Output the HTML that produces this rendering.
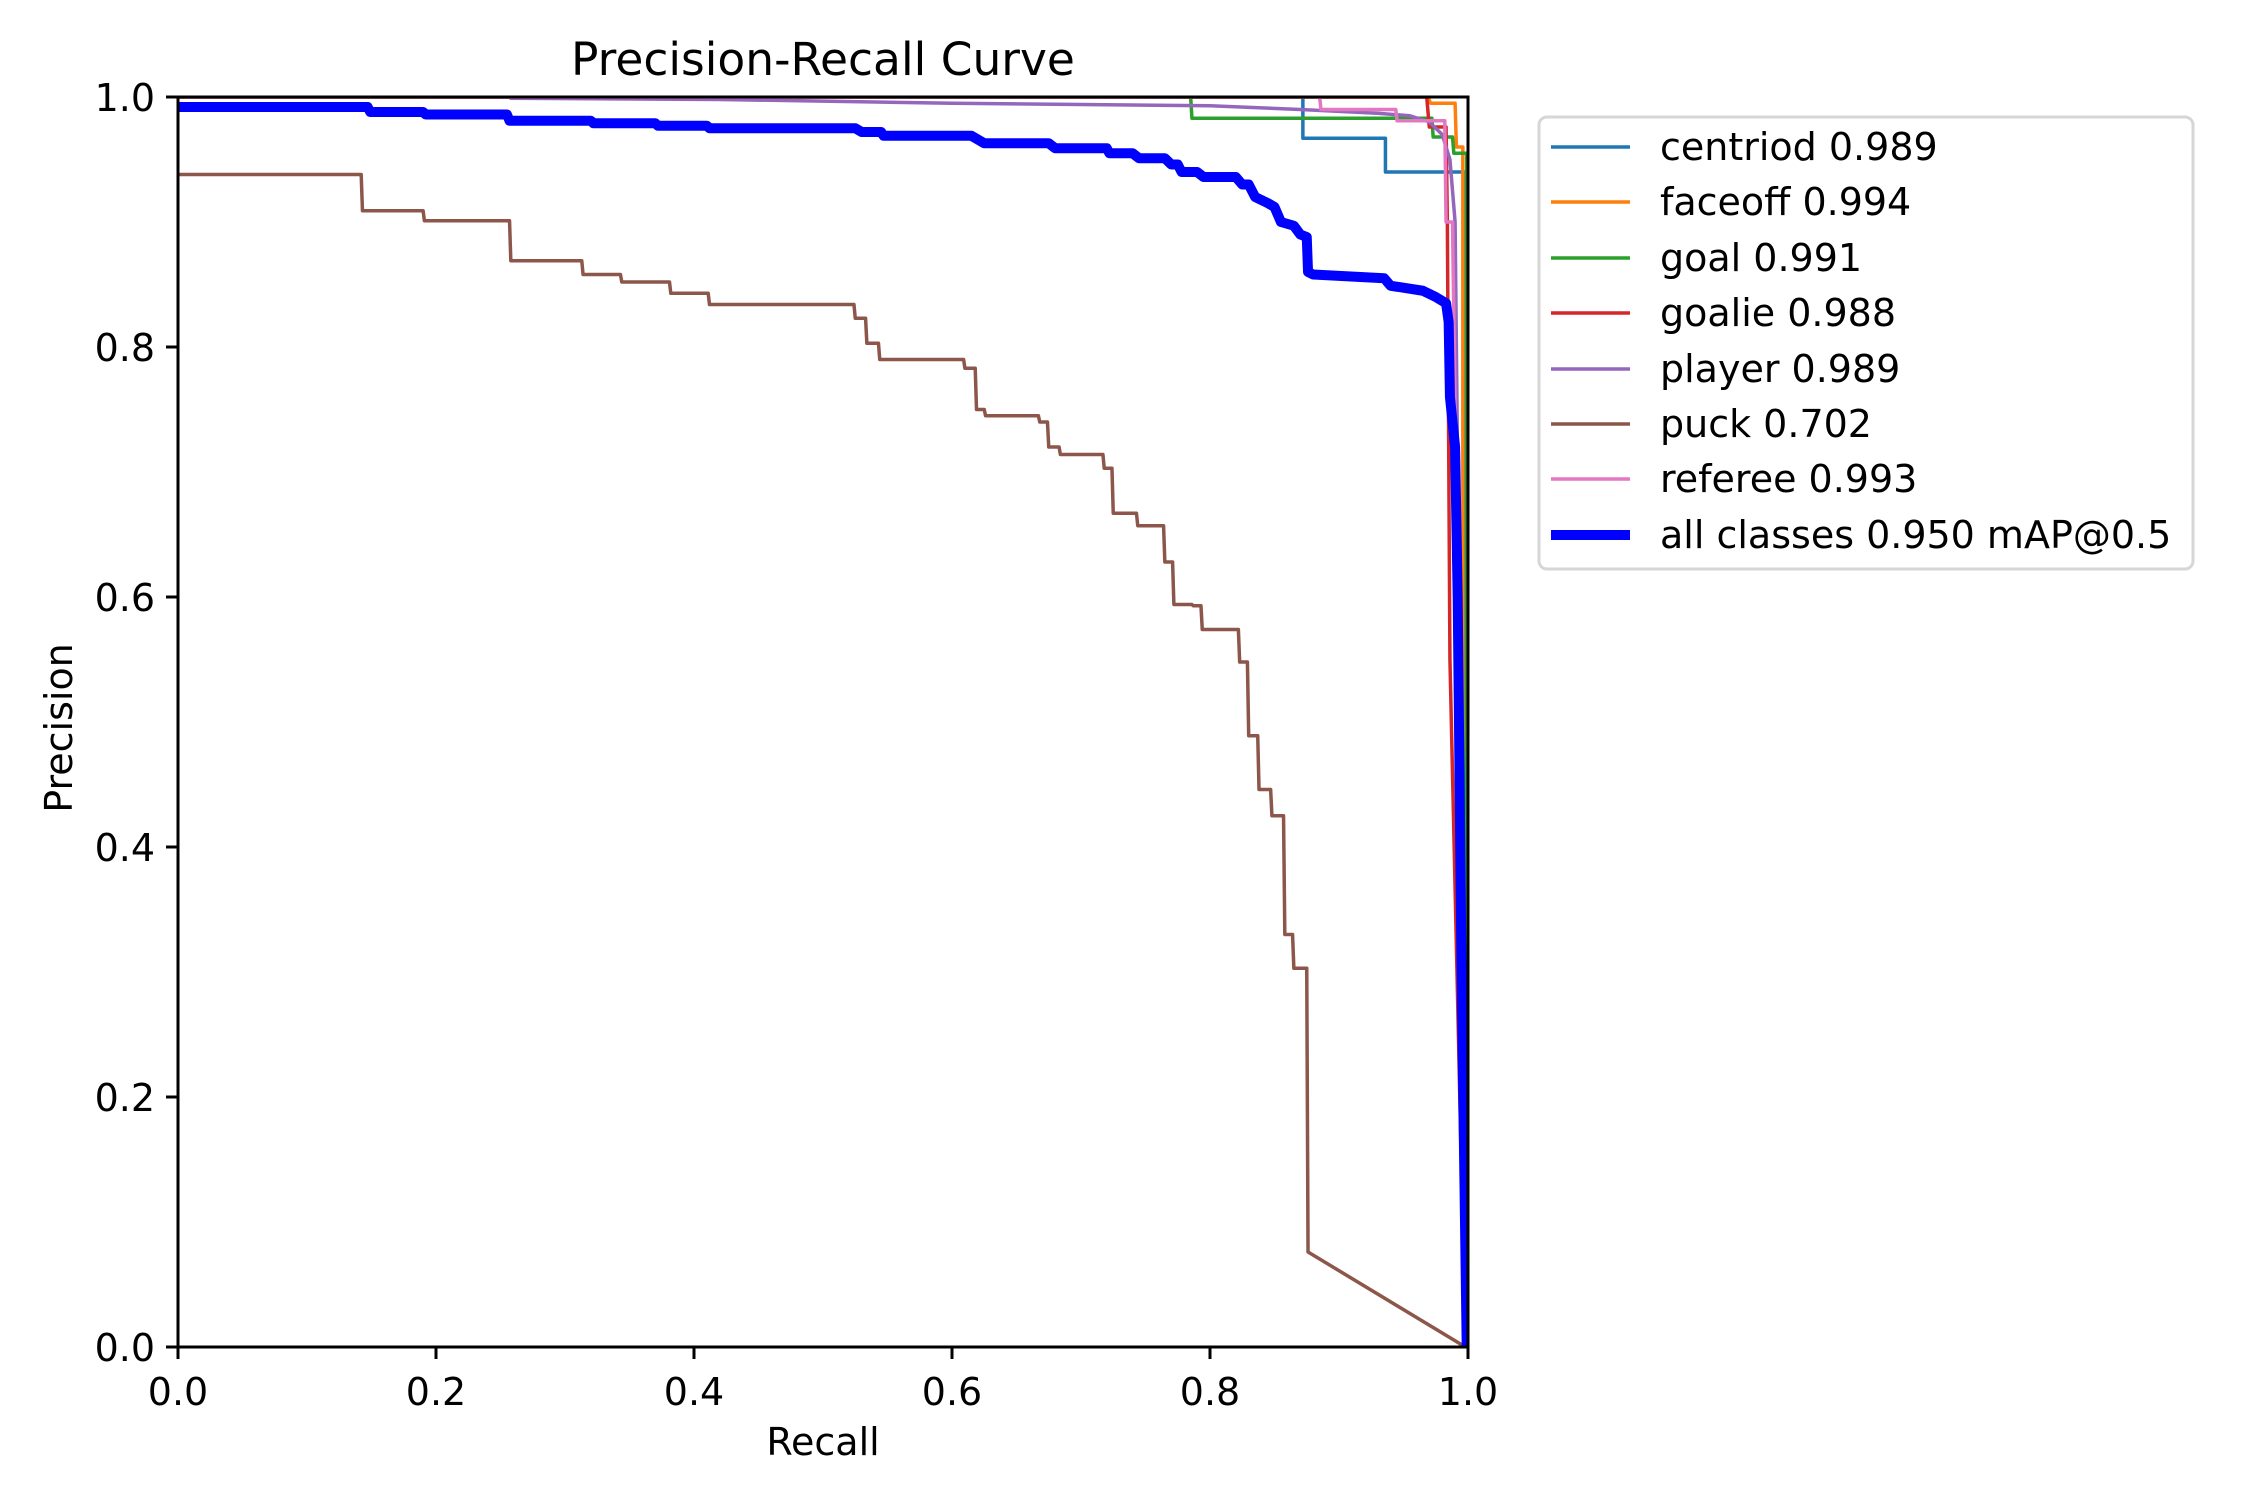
<!DOCTYPE html>
<html><head><meta charset="utf-8"><style>
html,body{margin:0;padding:0;background:#fff;}
svg{display:block;}
text{font-family:"DejaVu Sans","Liberation Sans",sans-serif;fill:#000;}
</style></head><body>
<svg width="2250" height="1500" viewBox="0 0 2250 1500" xmlns="http://www.w3.org/2000/svg">
<rect width="2250" height="1500" fill="#fff"/>
<defs><clipPath id="c"><rect x="178" y="97" width="1290" height="1250"/></clipPath></defs>
<g clip-path="url(#c)" fill="none" stroke-linejoin="round">
<g transform="translate(178,1347) scale(1290,-1250)">
<path vector-effect="non-scaling-stroke" stroke="#1f77b4" stroke-width="3.5" d="M0,1 L0.872,1 L0.872,0.967 L0.936,0.967 L0.936,0.94 L0.998,0.94 L0.998,0"/>
<path vector-effect="non-scaling-stroke" stroke="#ff7f0e" stroke-width="3.5" d="M0,1 L0.969,1 L0.971,0.995 L0.99,0.995 L0.991,0.96 L0.996,0.96 L0.996,0.3 L0.999,0"/>
<path vector-effect="non-scaling-stroke" stroke="#2ca02c" stroke-width="3.5" d="M0,1 L0.785,1 L0.786,0.983 L0.972,0.983 L0.973,0.968 L0.988,0.968 L0.989,0.955 L0.999,0.955 L0.999,0"/>
<path vector-effect="non-scaling-stroke" stroke="#d62728" stroke-width="3.5" d="M0,1 L0.968,1 L0.97,0.976 L0.983,0.976 L0.984,0.9 L0.986,0.55 L0.998,0"/>
<path vector-effect="non-scaling-stroke" stroke="#9467bd" stroke-width="3.5" d="M0.257,0.999 L0.42,0.998 L0.6,0.995 L0.8,0.993 L0.87,0.99 L0.93,0.987 L0.955,0.985 L0.97,0.98 L0.98,0.97 L0.986,0.95 L0.99,0.9 L0.993,0.6 L0.998,0.2 L0.999,0"/>
<path vector-effect="non-scaling-stroke" stroke="#e377c2" stroke-width="3.5" d="M0,1 L0.885,1 L0.886,0.99 L0.944,0.99 L0.945,0.981 L0.982,0.981 L0.983,0.9 L0.988,0.9 L0.99,0.75 L0.994,0.3 L0.998,0"/>
<path vector-effect="non-scaling-stroke" stroke="#8c564b" stroke-width="3.5" d="M0,0.938 L0.142,0.938 L0.143,0.909 L0.19,0.909 L0.191,0.901 L0.257,0.901 L0.258,0.869 L0.313,0.869 L0.314,0.858 L0.343,0.858 L0.344,0.852 L0.381,0.852 L0.382,0.843 L0.411,0.843 L0.412,0.834 L0.524,0.834 L0.525,0.823 L0.533,0.823 L0.534,0.803 L0.543,0.803 L0.544,0.79 L0.609,0.79 L0.61,0.783 L0.618,0.783 L0.619,0.75 L0.625,0.75 L0.626,0.745 L0.667,0.745 L0.668,0.74 L0.674,0.74 L0.675,0.72 L0.683,0.72 L0.684,0.714 L0.717,0.714 L0.718,0.703 L0.724,0.703 L0.725,0.667 L0.743,0.667 L0.744,0.657 L0.764,0.657 L0.765,0.628 L0.771,0.628 L0.772,0.594 L0.786,0.594 L0.787,0.593 L0.793,0.593 L0.794,0.574 L0.822,0.574 L0.823,0.548 L0.829,0.548 L0.83,0.489 L0.837,0.489 L0.838,0.446 L0.847,0.446 L0.848,0.425 L0.857,0.425 L0.858,0.33 L0.864,0.33 L0.865,0.303 L0.875,0.303 L0.876,0.076 L0.998,0"/>
<path vector-effect="non-scaling-stroke" stroke="#0000ff" stroke-width="10" d="M0,0.992 L0.147,0.992 L0.149,0.988 L0.19,0.988 L0.192,0.986 L0.255,0.986 L0.257,0.981 L0.32,0.981 L0.322,0.979 L0.37,0.979 L0.372,0.977 L0.41,0.977 L0.412,0.975 L0.525,0.975 L0.53,0.972 L0.545,0.972 L0.547,0.969 L0.615,0.969 L0.62,0.966 L0.625,0.963 L0.675,0.963 L0.68,0.959 L0.72,0.959 L0.722,0.955 L0.74,0.955 L0.745,0.951 L0.765,0.951 L0.77,0.946 L0.775,0.946 L0.778,0.94 L0.79,0.94 L0.795,0.936 L0.82,0.936 L0.825,0.93 L0.83,0.93 L0.835,0.92 L0.845,0.915 L0.85,0.912 L0.855,0.9 L0.865,0.897 L0.87,0.89 L0.875,0.888 L0.876,0.86 L0.88,0.858 L0.935,0.855 L0.94,0.849 L0.965,0.845 L0.975,0.84 L0.983,0.835 L0.985,0.82 L0.986,0.76 L0.99,0.72 L0.992,0.6 L0.995,0.3 L0.999,0"/>
</g></g>
<rect x="178" y="97" width="1290" height="1250" fill="none" stroke="#000" stroke-width="3"/>
<g stroke="#000" stroke-width="3">
<line x1="178" y1="1347" x2="178" y2="1359"/><line x1="436" y1="1347" x2="436" y2="1359"/><line x1="694" y1="1347" x2="694" y2="1359"/><line x1="952" y1="1347" x2="952" y2="1359"/><line x1="1210" y1="1347" x2="1210" y2="1359"/><line x1="1468" y1="1347" x2="1468" y2="1359"/>
<line x1="166" y1="97" x2="178" y2="97"/><line x1="166" y1="347" x2="178" y2="347"/><line x1="166" y1="597" x2="178" y2="597"/><line x1="166" y1="847" x2="178" y2="847"/><line x1="166" y1="1097" x2="178" y2="1097"/><line x1="166" y1="1347" x2="178" y2="1347"/>
</g>
<g font-size="38" text-anchor="middle">
<text x="178" y="1405">0.0</text><text x="436" y="1405">0.2</text><text x="694" y="1405">0.4</text><text x="952" y="1405">0.6</text><text x="1210" y="1405">0.8</text><text x="1468" y="1405">1.0</text>
</g>
<g font-size="38" text-anchor="end">
<text x="155" y="111">1.0</text><text x="155" y="361">0.8</text><text x="155" y="611">0.6</text><text x="155" y="861">0.4</text><text x="155" y="1111">0.2</text><text x="155" y="1361">0.0</text>
</g>
<text x="823" y="1455" font-size="38" text-anchor="middle">Recall</text>
<text x="0" y="0" font-size="38" text-anchor="middle" transform="translate(72,728) rotate(-90)">Precision</text>
<text x="823" y="75" font-size="45.5" text-anchor="middle">Precision-Recall Curve</text>
<rect x="1548" y="117" width="654" height="452" rx="8" fill="#fff" stroke="#d6d6d6" stroke-width="3" transform="translate(-9,0)"/>
<g transform="translate(-9,0)">
<g stroke-width="3.5">
<line x1="1560" y1="147" x2="1639" y2="147" stroke="#1f77b4"/>
<line x1="1560" y1="202" x2="1639" y2="202" stroke="#ff7f0e"/>
<line x1="1560" y1="258" x2="1639" y2="258" stroke="#2ca02c"/>
<line x1="1560" y1="313" x2="1639" y2="313" stroke="#d62728"/>
<line x1="1560" y1="369" x2="1639" y2="369" stroke="#9467bd"/>
<line x1="1560" y1="424" x2="1639" y2="424" stroke="#8c564b"/>
<line x1="1560" y1="479" x2="1639" y2="479" stroke="#e377c2"/>
<line x1="1560" y1="535" x2="1639" y2="535" stroke="#0000ff" stroke-width="10"/>
</g>
<g font-size="38">
<text x="1669" y="160">centriod 0.989</text>
<text x="1669" y="215">faceoff 0.994</text>
<text x="1669" y="271">goal 0.991</text>
<text x="1669" y="326">goalie 0.988</text>
<text x="1669" y="382">player 0.989</text>
<text x="1669" y="437">puck 0.702</text>
<text x="1669" y="492">referee 0.993</text>
<text x="1669" y="548">all classes 0.950 mAP@0.5</text>
</g>
</g>
</svg>
</body></html>
